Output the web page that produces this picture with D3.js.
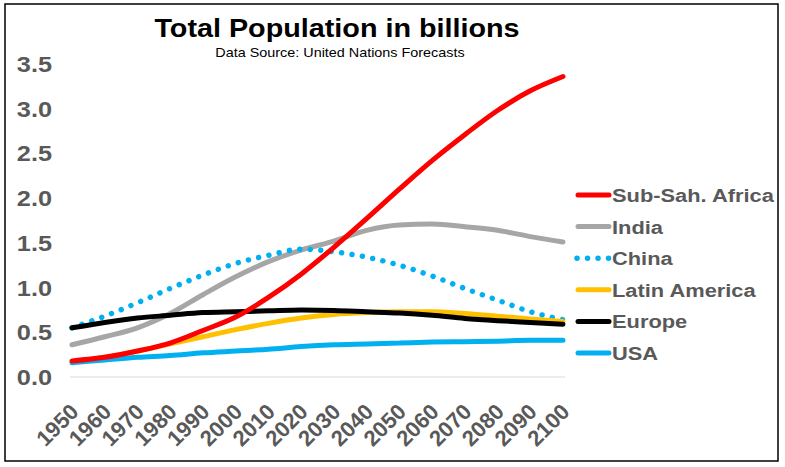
<!DOCTYPE html>
<html><head><meta charset="utf-8">
<script src="https://cdn.jsdelivr.net/npm/d3@7"></script>
<style>body{margin:0;background:#fff}svg{display:block}text{font-family:"Liberation Sans",Arial,sans-serif}</style>
</head><body>
<svg id="c" width="785" height="467"></svg>
<script>
const years = [1950,1960,1970,1980,1990,2000,2010,2020,2030,2040,2050,2060,2070,2080,2090,2100];
const yTicks = [0,0.5,1,1.5,2,2.5,3,3.5];
const seriesNames = ["Sub-Sah. Africa","India","China","Latin America","Europe","USA"];
const seriesColors = ["#FF0000","#A6A6A6","#00B0F0","#FFC000","#000000","#00B0F0"];
const subSahAfrica = [0.18,0.22,0.29,0.38,0.52,0.67,0.89,1.15,1.45,1.77,2.10,2.42,2.71,2.98,3.20,3.36];
const india        = [0.36,0.45,0.55,0.71,0.92,1.12,1.29,1.42,1.52,1.64,1.70,1.71,1.68,1.64,1.57,1.51];
const china        = [0.55,0.68,0.83,0.99,1.14,1.27,1.36,1.43,1.40,1.34,1.25,1.13,0.99,0.86,0.73,0.64];
const latinAmerica = [0.17,0.22,0.29,0.37,0.45,0.53,0.60,0.66,0.70,0.72,0.73,0.73,0.71,0.68,0.65,0.62];
const europe       = [0.55,0.61,0.66,0.69,0.72,0.73,0.74,0.75,0.745,0.73,0.715,0.69,0.655,0.63,0.61,0.59];
const usa          = [0.16,0.19,0.22,0.24,0.27,0.29,0.31,0.34,0.36,0.37,0.38,0.39,0.395,0.40,0.41,0.41];
const seriesValues = [subSahAfrica,india,china,latinAmerica,europe,usa];

const svg = d3.select("#c");
const SX = 1.15;
function txt(sel, x, y, extra){ return sel.append("text").attr("transform",`translate(${x},${y}) scale(${SX},1)`+(extra||"")); }

svg.append("rect").attr("x",5).attr("y",4).attr("width",773).attr("height",457)
  .attr("fill","#fff").attr("stroke","#000").attr("stroke-width",1.5);

const x = d3.scalePoint().domain(years).range([72,563]);
const y = d3.scaleLinear().domain([0,3.5]).range([377,64]);

svg.append("line").attr("x1",70).attr("x2",565).attr("y1",y(0)).attr("y2",y(0))
  .attr("stroke","#D9D9D9").attr("stroke-width",1);

const ya = svg.append("g");
yTicks.forEach(t=>{
  txt(ya, 52, y(t)+8).attr("text-anchor","end").attr("font-size",22).attr("font-weight","bold")
    .attr("fill","#595959").text(d3.format(".1f")(t));
});
const xa = svg.append("g");
years.forEach(yr=>{
  xa.append("text").attr("transform",`translate(${x(yr)+8},${413}) rotate(-45)`)
    .attr("text-anchor","end").attr("font-size",22).attr("font-weight","bold")
    .attr("fill","#595959").text(yr);
});

const line = d3.line().x((d,i)=>x(years[i])).y(d=>y(d)).curve(d3.curveMonotoneX);
const order = [1,2,3,5,4,0];
order.forEach(k=>{
  const p = svg.append("path").datum(seriesValues[k]).attr("d",line)
    .attr("fill","none").attr("stroke",seriesColors[k]).attr("stroke-width",5);
  if(k===2) p.attr("stroke-dasharray","0.01 10.5").attr("stroke-linecap","round").attr("stroke-width",5.5);
  else p.attr("stroke-linecap","round");
});

const lg = svg.append("g");
seriesNames.forEach((n,i)=>{
  const cy = 195 + i*31.6;
  const l = lg.append("line").attr("x1",578).attr("x2",609).attr("y1",cy).attr("y2",cy)
    .attr("stroke",seriesColors[i]).attr("stroke-width",5).attr("stroke-linecap","round");
  if(i===2) l.attr("stroke-dasharray","0.01 10.5").attr("x1",577).attr("stroke-width",5.5);
  txt(lg, 612, cy+7).attr("font-size",19).attr("font-weight","bold").attr("fill","#595959").text(n);
});

txt(svg, 337, 37).attr("text-anchor","middle").attr("font-size",25).attr("font-weight","bold").attr("fill","#000")
  .text("Total Population in billions");
txt(svg, 340, 57).attr("text-anchor","middle").attr("font-size",12.5).attr("fill","#000")
  .text("Data Source: United Nations Forecasts");
</script>
</body></html>
